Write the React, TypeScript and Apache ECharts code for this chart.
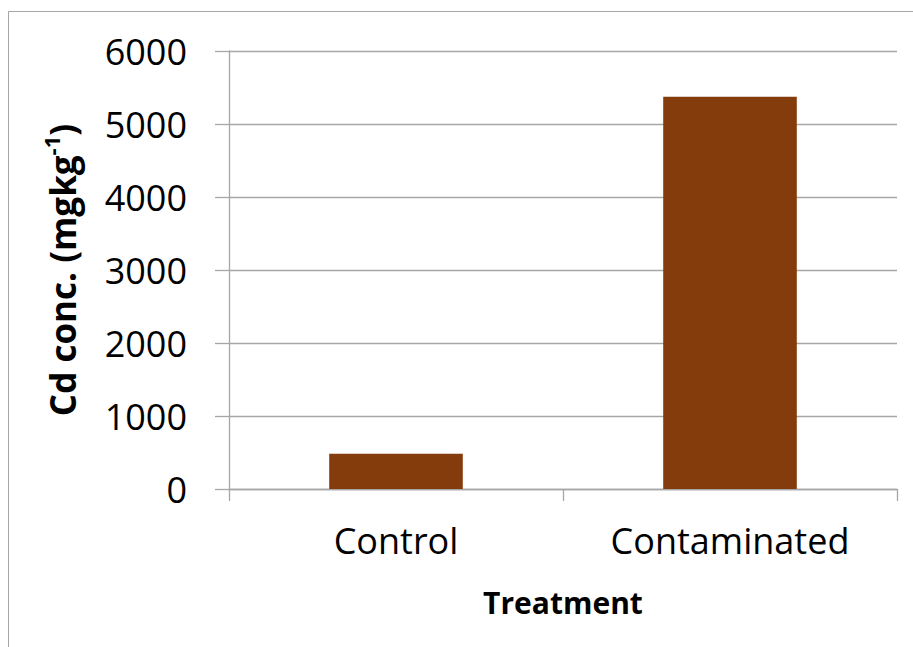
import React, { useEffect, useRef } from "react";
import * as echarts from "echarts";

const categories = ["Control", "Contaminated"];
const cdValues = [483, 5374];
const yTicks = { min: 0, max: 6000, interval: 1000 };

export default function App() {
  const ref = useRef<HTMLDivElement>(null);
  useEffect(() => {
    const chart = echarts.init(ref.current!, null, { renderer: "svg" });
    const font = "'Open Sans', 'Noto Sans', sans-serif";
    chart.setOption({
      animation: false,
      backgroundColor: "#ffffff",
      graphic: [
        {
          type: "rect",
          shape: { x: 8.5, y: 11.5, width: 920, height: 700 },
          style: { fill: "none", stroke: "#a6a6a6", lineWidth: 1 },
          silent: true,
        },
      ],
      grid: { left: 229, right: 16, top: 51, bottom: 158 },
      xAxis: {
        type: "category",
        data: categories,
        name: "Treatment",
        nameLocation: "middle",
        nameGap: 98,
        nameTextStyle: { fontFamily: font, fontWeight: "bold", fontSize: 30, color: "#000" },
        axisLine: { show: true, lineStyle: { color: "#a6a6a6", width: 1.3 } },
        axisTick: { show: true, length: 12, lineStyle: { color: "#a6a6a6", width: 1.3 } },
        axisLabel: { fontFamily: font, fontSize: 36, color: "#000", margin: 33 },
      },
      yAxis: {
        type: "value",
        min: yTicks.min,
        max: yTicks.max,
        interval: yTicks.interval,
        name: "{m|Cd conc. (mgkg}{s|-1}{m|)}",
        nameLocation: "middle",
        nameRotate: 90,
        nameGap: 149,
        nameTextStyle: {
          fontFamily: font,
          fontWeight: "bold",
          color: "#000",
          rich: {
            m: { fontFamily: font, fontWeight: "bold", fontSize: 35, lineHeight: 40, color: "#000", verticalAlign: "bottom" },
            s: { fontFamily: font, fontWeight: "bold", fontSize: 22, lineHeight: 40, color: "#000", verticalAlign: "top", padding: [0, 0, 12, 0] },
          },
        },
        axisLine: { show: true, lineStyle: { color: "#a6a6a6", width: 1.3 } },
        axisTick: { show: true, length: 14, lineStyle: { color: "#a6a6a6", width: 1.3 } },
        splitLine: { show: true, lineStyle: { color: "#a6a6a6", width: 1.3 } },
        axisLabel: {
          fontFamily: font,
          fontSize: 36,
          color: "#000",
          margin: 42,
          formatter: (v: number) => String(v),
        },
      },
      series: [
        {
          type: "bar",
          data: cdValues,
          barWidth: "40%",
          itemStyle: { color: "#843C0C" },
        },
      ],
    });
    return () => chart.dispose();
  }, []);
  return <div ref={ref} style={{ width: 913, height: 647, position: "absolute", left: 0, top: 0 }} />;
}
